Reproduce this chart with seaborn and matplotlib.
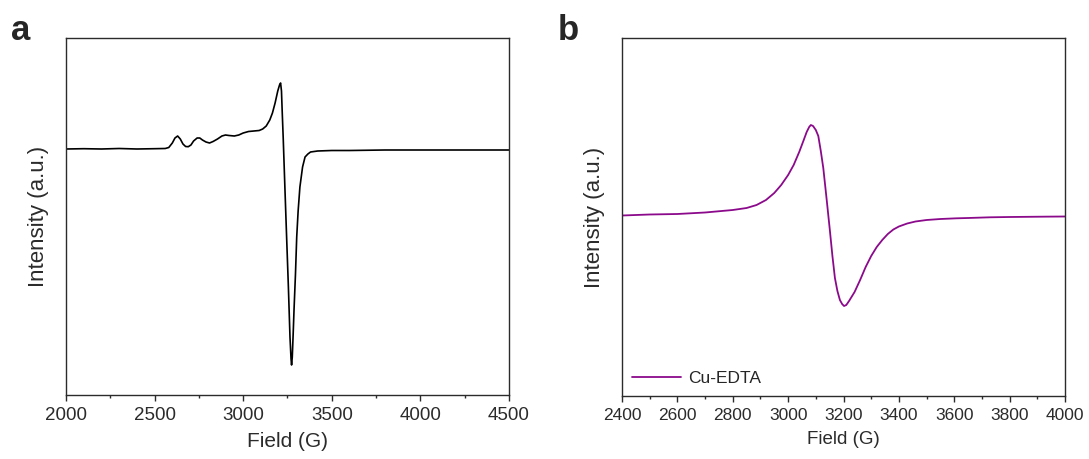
import numpy as np
import pandas as pd
import matplotlib.pyplot as plt
from matplotlib.ticker import MultipleLocator
import seaborn as sns

# panel a: EPR spectrum (field in G, intensity in arbitrary units, baseline = 0)
field_a = [2000, 2100, 2200, 2300, 2400, 2500, 2560, 2580, 2600, 2615, 2630, 2645,
           2660, 2675, 2690, 2705, 2720, 2740, 2755, 2770, 2790, 2810, 2830, 2855,
           2880, 2900, 2920, 2950, 2975, 3000, 3030, 3060, 3090, 3110, 3130, 3150,
           3165, 3180, 3195, 3205, 3211, 3216, 3220, 3226, 3235, 3245, 3255, 3264,
           3270, 3273, 3277, 3282, 3287, 3295, 3302, 3310, 3320, 3335, 3349, 3365,
           3380, 3420, 3500, 3600, 3800, 4000, 4200, 4400, 4500]
inten_a = [0, 0.3, 0, 0.5, 0, 0.3, 0.5, 1.5, 6, 11, 13, 10,
           5, 2.5, 2.3, 4, 8, 11, 11, 9, 7, 6, 7.5, 10,
           13, 14, 13.5, 13, 14, 16, 17.5, 18, 18.5, 20, 23, 29,
           36, 46, 58, 64, 66, 58, 38, 10, -37, -88, -138, -188,
           -210, -216, -208, -185, -160, -125, -88, -62, -38, -18, -8, -5,
           -3, -2, -1.5, -1.5, -1, -1, -1, -1, -1]

# panel b: Cu-EDTA spectrum
field_b = [2400, 2500, 2600, 2700, 2800, 2850, 2886, 2920, 2950, 2975, 3000, 3020,
           3040, 3055, 3067, 3076, 3082, 3090, 3100, 3109, 3118, 3127, 3139, 3151,
           3160, 3169, 3178, 3187, 3195, 3202, 3210, 3220, 3240, 3260, 3280, 3300,
           3320, 3340, 3360, 3380, 3400, 3430, 3460, 3500, 3550, 3609, 3650, 3729,
           3800, 3910, 4000]
inten_b = [0.5, 1.5, 2, 3.5, 6, 8, 11, 16, 23, 31, 41, 51,
           64, 75, 84, 89, 91, 90, 86, 80, 65, 48, 17, -15,
           -40, -62, -75, -84, -88, -90, -89, -85, -76, -64, -51, -40,
           -31, -24, -18, -13.5, -10.5, -7.5, -5.5, -4, -3, -2.3, -2, -1.3,
           -1, -0.7, -0.5]

df_a = pd.DataFrame({"Field": field_a, "Intensity": inten_a})
df_b = pd.DataFrame({"Field": field_b, "Intensity": inten_b})

sns.set_style("ticks")
plt.rcParams["font.family"] = ["Liberation Sans", "DejaVu Sans"]
grey = "#2b2b2b"

fig = plt.figure(figsize=(10.89, 4.59), dpi=100)
ax1 = fig.add_axes([66 / 1089, 64 / 459, 443 / 1089, 357 / 459])
ax2 = fig.add_axes([622 / 1089, 63 / 459, 443 / 1089, 358 / 459])

sns.lineplot(data=df_a, x="Field", y="Intensity", ax=ax1, color="black", lw=1.2)
sns.lineplot(data=df_b, x="Field", y="Intensity", ax=ax2, color="#8B0A8B", lw=1.3,
             label="Cu-EDTA")

ax1.set_xlim(2000, 4500)
ax1.set_ylim(-246, 111)
ax1.xaxis.set_major_locator(MultipleLocator(500))
ax1.xaxis.set_minor_locator(MultipleLocator(250))

ax2.set_xlim(2400, 4000)
ax2.set_ylim(-180, 178)
ax2.xaxis.set_major_locator(MultipleLocator(200))
ax2.xaxis.set_minor_locator(MultipleLocator(100))

for ax, xs, ts in [(ax1, 15, 13.5), (ax2, 13.5, 12.5)]:
    ax.set_yticks([])
    ax.set_xlabel("Field (G)", fontsize=xs, color=grey, labelpad=6)
    ax.set_ylabel("Intensity (a.u.)", fontsize=16, color=grey, labelpad=12)
    ax.tick_params(axis="x", which="major", direction="out", length=4.5, width=1,
                   labelsize=ts, colors=grey, pad=4)
    ax.tick_params(axis="x", which="minor", direction="out", length=2.5, width=1,
                   colors=grey)
    for s in ax.spines.values():
        s.set_visible(True)
        s.set_color(grey)
        s.set_linewidth(1)

ax2.legend(loc="lower left", frameon=False, fontsize=12.5, handlelength=2.8,
           borderaxespad=0.2, handletextpad=0.4)

fig.text(11 / 1089, 1 - 40 / 459, "a", fontsize=25, fontweight="bold")
fig.text(558 / 1089, 1 - 40 / 459, "b", fontsize=25, fontweight="bold")

fig.savefig("out.png", dpi=100)
